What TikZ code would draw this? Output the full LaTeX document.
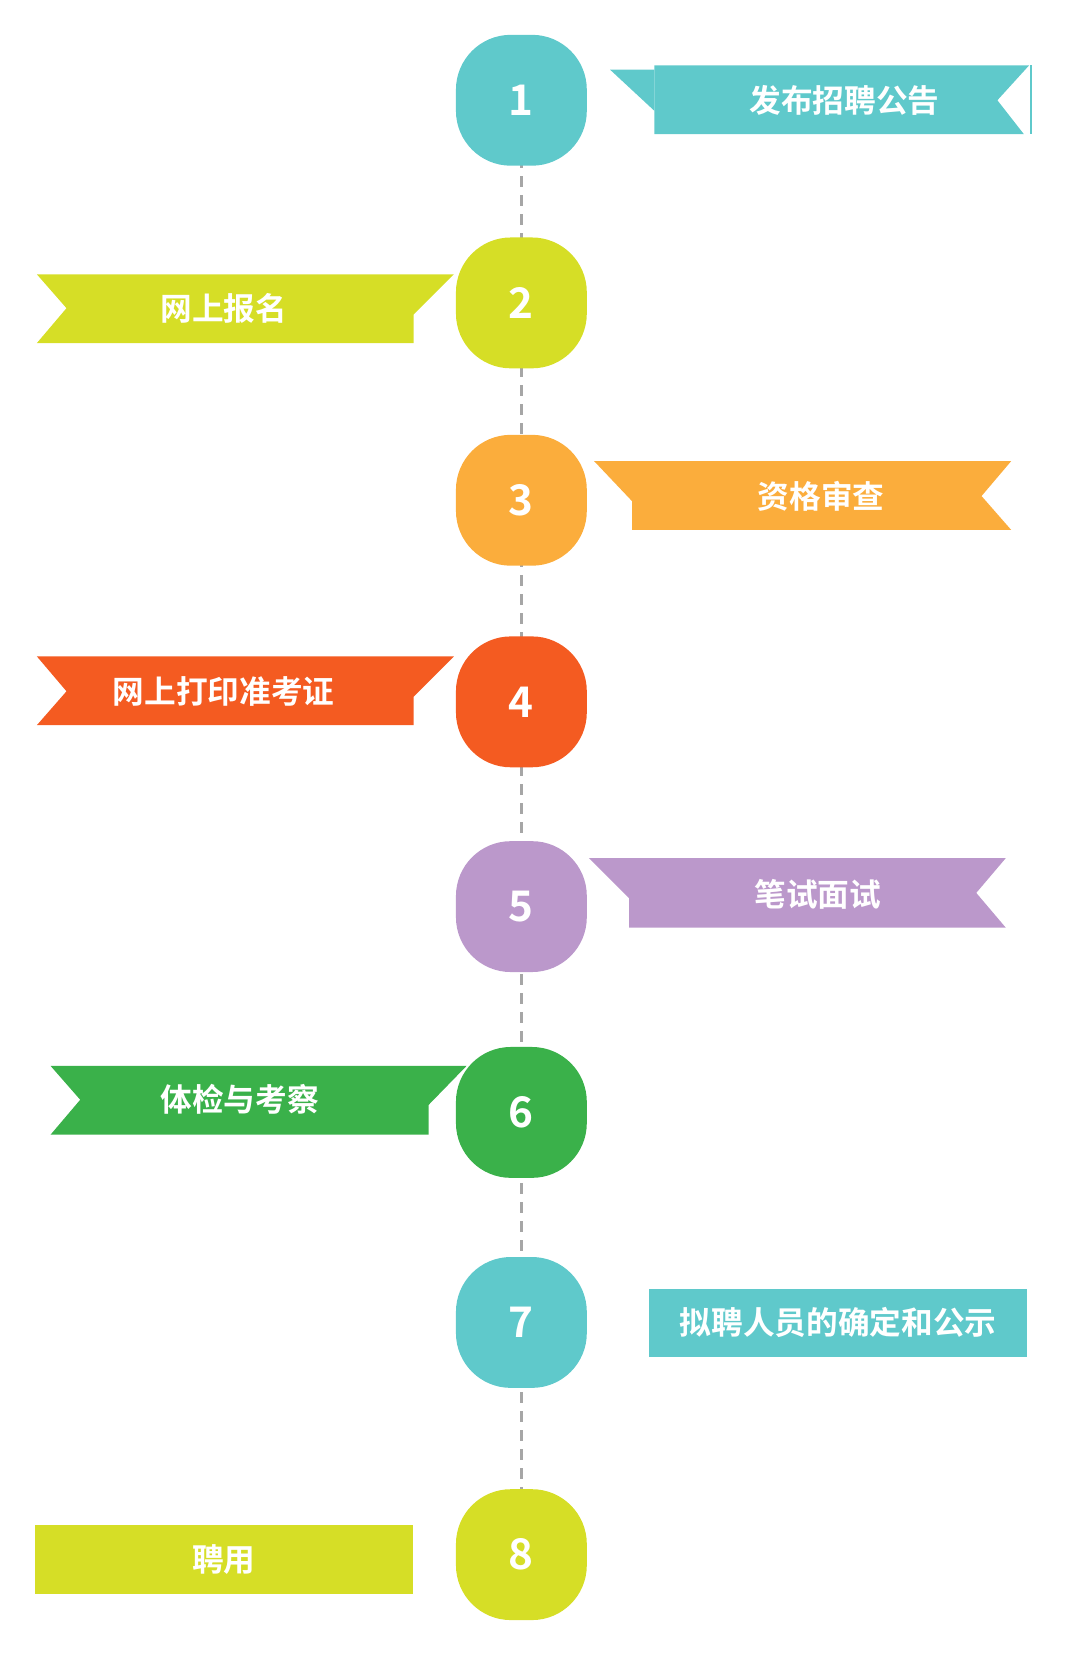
\documentclass[tikz,border=0pt]{standalone}
\usepackage{fontspec}
\newfontfamily\cjk{Noto Sans CJK SC Bold}
\definecolor{cteal}{HTML}{5FC9CB}
\definecolor{clime}{HTML}{D6DE26}
\definecolor{corange}{HTML}{FBAD3C}
\definecolor{cred}{HTML}{F45B21}
\definecolor{cpurple}{HTML}{BB98CB}
\definecolor{cgreen}{HTML}{3AB14A}
\begin{document}
\begin{tikzpicture}[x=0.5pt,y=-0.5pt,
  step/.style={},
  stepdot/.style={rectangle,rounded corners=26pt,minimum size=62pt,inner sep=0pt,text=white,font=\cjk\fontsize{20}{20}\selectfont},
  lbl/.style={text=white,font=\cjk\fontsize{15}{15}\selectfont}]
   \useasboundingbox (0,0) rectangle (1024,1588);
   % timeline
   \draw[gray!70,line width=1.2pt,dash pattern=on 5pt off 4pt] (494,95) -- (494,1473);
   \begin{scope}[every node/.style={stepdot}]
    \node[fill=cteal] (s1) at (494,95) {1};
    \node[fill=clime] (s2) at (494,287) {2};
    \node[fill=corange] (s3) at (494,474) {3};
    \node[fill=cred] (s4) at (494,665) {4};
    \node[fill=cpurple] (s5) at (494,859) {5};
    \node[fill=cgreen] (s6) at (494,1054) {6};
    \node[fill=cteal] (s7) at (494,1253) {7};
    \node[fill=clime] (s8) at (494,1473) {8};
   \end{scope}
   % banners
   \fill[cteal] (578,66) -- (620,66) -- (620,105) -- cycle;
   \fill[cteal] (620,62) -- (975,62) -- (945,95) -- (970,127) -- (620,127) -- cycle;
   \draw[cteal,line width=1pt] (977,62) -- (977,127);
   \fill[clime] (35,260) -- (430,260) -- (392,298) -- (392,325) -- (35,325) -- (63,292) -- cycle;
   \fill[corange] (563,437) -- (958,437) -- (930,470) -- (958,502) -- (599,502) -- (599,475) -- cycle;
   \fill[cred] (35,622) -- (430,622) -- (392,660) -- (392,687) -- (35,687) -- (63,655) -- cycle;
   \fill[cpurple] (558,813) -- (953,813) -- (925,846) -- (953,879) -- (596,879) -- (596,851) -- cycle;
   \fill[cgreen] (48,1010) -- (442,1010) -- (406,1047) -- (406,1075) -- (48,1075) -- (76,1042) -- cycle;
   \fill[cteal] (615,1221) rectangle (973,1286);
   \fill[clime] (33,1445) rectangle (391,1510);
   \begin{scope}[every node/.style={lbl}]
    \node (t1) at (800,95) {发布招聘公告};
    \node (t2) at (212,292) {网上报名};
    \node (t3) at (778,470) {资格审查};
    \node (t4) at (212,655) {网上打印准考证};
    \node (t5) at (775,847) {笔试面试};
    \node (t6) at (227,1042) {体检与考察};
    \node (t7) at (794,1253) {拟聘人员的确定和公示};
    \node (t8) at (212,1478) {聘用};
   \end{scope}
\end{tikzpicture}
\end{document}
